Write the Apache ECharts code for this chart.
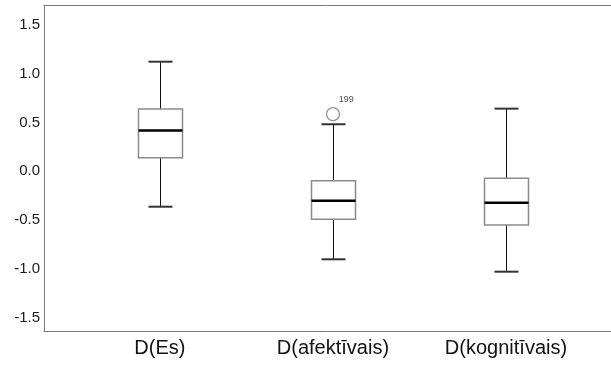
<!DOCTYPE html>
<html>
<head>
    <meta charset="utf-8">
    <title>boxplot</title>
    <script src="https://cdn.jsdelivr.net/npm/echarts@6/dist/echarts.min.js"></script>
    <style>
        html, body {margin: 0; padding: 0; background: #ffffff;}
        #box-chart {width: 611px; height: 365px;}
    </style>
</head>
<body>
<div id="box-chart"></div>
<script>
    // 数据
    var categories = ['D(Es)', 'D(afektīvais)', 'D(kognitīvais)'];
    var lowerWhisker = [-0.364, -0.903, -1.030];
    var q1 = [0.138, -0.493, -0.551];
    var median = [0.417, -0.302, -0.323];
    var q3 = [0.637, -0.097, -0.073];
    var upperWhisker = [1.122, 0.481, 0.641];
    var outlierCat = [2];
    var outlierVal = [0.585];
    var outlierCase = ['199'];
    var yTicks = [-1.5, -1.0, -0.5, 0.0, 0.5, 1.0, 1.5];

    var boxRows = [];
    for (var i = 0; i < categories.length; i++) {
        boxRows.push([i + 1, lowerWhisker[i], q1[i], median[i], q3[i], upperWhisker[i]]);
    }
    var outlierRows = [];
    for (var j = 0; j < outlierVal.length; j++) {
        outlierRows.push({value: [outlierCat[j], outlierVal[j]], name: outlierCase[j]});
    }

    function renderBox(params, api) {
        var x = api.value(0);
        var lo = api.coord([x, api.value(1)]);
        var b1 = api.coord([x, api.value(2)]);
        var md = api.coord([x, api.value(3)]);
        var b3 = api.coord([x, api.value(4)]);
        var hi = api.coord([x, api.value(5)]);
        var cx = Math.round(lo[0]) + 0.5;
        var bw = 22, cw = 12;
        var whisker = {stroke: '#111', lineWidth: 1};
        var cap = {stroke: '#333', lineWidth: 2};
        return {
            type: 'group',
            children: [
                {type: 'line', shape: {x1: cx, y1: hi[1], x2: cx, y2: b3[1]}, style: whisker},
                {type: 'line', shape: {x1: cx, y1: b1[1], x2: cx, y2: lo[1]}, style: whisker},
                {type: 'line', shape: {x1: cx - cw, y1: hi[1], x2: cx + cw, y2: hi[1]}, style: cap},
                {type: 'line', shape: {x1: cx - cw, y1: lo[1], x2: cx + cw, y2: lo[1]}, style: cap},
                {
                    type: 'rect',
                    shape: {x: cx - bw, y: b3[1], width: bw * 2, height: b1[1] - b3[1]},
                    style: {fill: '#ffffff', stroke: '#8a8a8a', lineWidth: 1.5}
                },
                {type: 'line', shape: {x1: cx - bw, y1: md[1], x2: cx + bw, y2: md[1]}, style: {stroke: '#000', lineWidth: 2.5}}
            ]
        };
    }

    var frameLine = {show: true, onZero: false, lineStyle: {color: '#7a7a7a', width: 1}};
    var labelFont = 'Liberation Sans, Arial, sans-serif';

    var chart = echarts.init(document.getElementById('box-chart'));
    var option = {
        animation: false,
        backgroundColor: '#ffffff',
        grid: {left: 44, right: 0, top: 5.5, bottom: 33.3},
        xAxis: [
            {
                type: 'value',
                min: 0.33,
                max: 3.607,
                axisLine: frameLine,
                axisTick: {show: false},
                splitLine: {show: false},
                axisLabel: {
                    customValues: [1, 2, 3],
                    margin: 7,
                    fontSize: 20,
                    color: '#111',
                    fontFamily: labelFont,
                    formatter: function (v) {
                        return categories[Math.round(v) - 1] || '';
                    }
                }
            },
            {
                type: 'value',
                position: 'top',
                min: 0.33,
                max: 3.607,
                axisLine: frameLine,
                axisTick: {show: false},
                splitLine: {show: false},
                axisLabel: {show: false}
            }
        ],
        yAxis: {
            type: 'value',
            min: -1.645,
            max: 1.698,
            axisLine: frameLine,
            axisTick: {show: false},
            splitLine: {show: false},
            axisLabel: {
                customValues: yTicks,
                margin: 4,
                fontSize: 15,
                color: '#1a1a1a',
                fontFamily: labelFont,
                formatter: function (v) {
                    return v.toFixed(1);
                }
            }
        },
        series: [
            {
                type: 'custom',
                renderItem: renderBox,
                encode: {x: 0, y: [1, 2, 3, 4, 5]},
                data: boxRows
            },
            {
                type: 'scatter',
                symbol: 'circle',
                symbolSize: 13,
                itemStyle: {color: '#ffffff', borderColor: '#777', borderWidth: 1.3},
                label: {
                    show: true,
                    position: [13, -12],
                    formatter: '{b}',
                    fontSize: 9,
                    color: '#222',
                    fontFamily: labelFont
                },
                data: outlierRows
            }
        ]
    };
    chart.setOption(option);
</script>
</body>
</html>
